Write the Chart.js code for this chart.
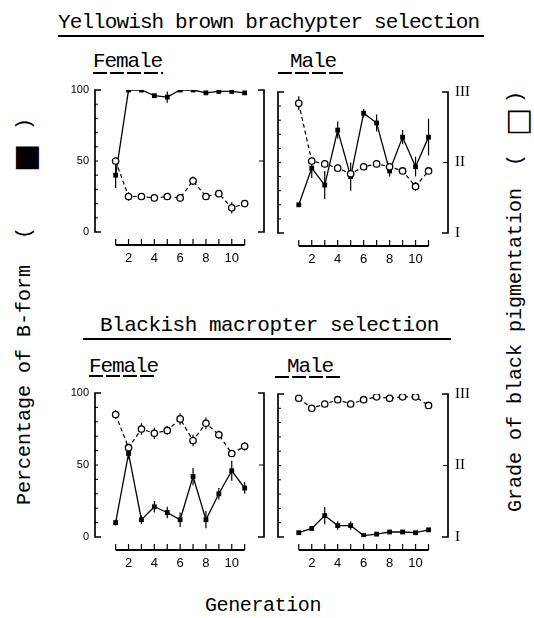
<!DOCTYPE html>
<html>
<head>
<meta charset="utf-8">
<script src="https://cdn.jsdelivr.net/npm/chart.js@4.4.0/dist/chart.umd.min.js"></script>
<style>
  body { margin: 0; width: 534px; height: 618px; background: #fff; position: relative; overflow: hidden; }
  canvas, .txt, .linha { position: absolute; }
  .txt { font-family: "Liberation Mono", monospace; color: #000; white-space: pre; line-height: 1; }
  .linha { background: #000; height: 1.5px; }
  .tracejada { position: absolute; height: 2px; background: repeating-linear-gradient(90deg, #000 0 14px, transparent 14px 17px); }
  .rot { transform: translate(-50%, -50%) rotate(-90deg); }
</style>
</head>
<body>

<!-- títulos -->
<div class="txt" style="left:58px; top:12px; font-size:21px; letter-spacing:-0.9px;">Yellowish brown brachypter selection</div>
<div class="linha" style="left:58px; top:35px; width:426px;"></div>
<div class="txt" style="left:93px; top:51px; font-size:21px; letter-spacing:-1.1px;">Female</div>
<div class="tracejada" style="left:93px; top:72px; width:70px;"></div>
<div class="txt" style="left:290px; top:51px; font-size:21px; letter-spacing:-1.1px;">Male</div>
<div class="tracejada" style="left:278px; top:72px; width:66px;"></div>

<div class="txt" style="left:100px; top:315px; font-size:21px; letter-spacing:-0.5px;">Blackish macropter selection</div>
<div class="linha" style="left:83px; top:338px; width:368px;"></div>
<div class="txt" style="left:89px; top:356px; font-size:21px; letter-spacing:-1.1px;">Female</div>
<div class="tracejada" style="left:89px; top:375px; width:68px;"></div>
<div class="txt" style="left:287px; top:356px; font-size:21px; letter-spacing:-1.1px;">Male</div>
<div class="tracejada" style="left:275px; top:376px; width:66px;"></div>

<div class="txt" style="left:205px; top:596px; font-size:20px; letter-spacing:-0.4px;">Generation</div>

<!-- rótulos verticais -->
<div class="txt rot" style="left:25px; top:385px; font-size:20px;">Percentage of B-form</div>
<div class="txt rot" style="left:25px; top:233px; font-size:20px;">(</div>
<div class="txt rot" style="left:25px; top:158px; font-size:30px; font-family:'DejaVu Sans';">■</div>
<div class="txt rot" style="left:25px; top:124px; font-size:20px;">)</div>

<div class="txt rot" style="left:516px; top:350px; font-size:20px;">Grade of black pigmentation</div>
<div class="txt rot" style="left:516px; top:160px; font-size:20px;">(</div>
<div class="txt rot" style="left:517px; top:122px; font-size:30px; font-family:'DejaVu Sans';">□</div>
<div class="txt rot" style="left:516px; top:97px; font-size:20px;">)</div>

<canvas id="tl"></canvas>
<canvas id="tr"></canvas>
<canvas id="bl"></canvas>
<canvas id="br"></canvas>

<script>
// Gerações e marcas dos eixos
const geracoes = [1, 2, 3, 4, 5, 6, 7, 8, 9, 10, 11];
const ticksGeracao = [2, 4, 6, 8, 10];
const ticksPercentual = [0, 50, 100];
const graus = ["I", "II", "III"];

// Seleção braquíptera marrom-amarelada, fêmeas
const amarFemeaB = [40, 100, 100, 96, 95, 100, 100, 98, 99, 99, 98];
const amarFemeaBErr = [9, 0, 0, 1, 4, 0, 0, 1, 0, 0, 1];
const amarFemeaG = [50, 25, 25, 24, 25, 24, 36, 25, 27, 17, 20];
const amarFemeaGErr = [2, 3, 1, 1, 1, 1, 3, 1, 1, 4, 2];

// Seleção braquíptera marrom-amarelada, machos
const amarMachoB = [20, 46, 34, 73, 40, 85, 78, 44, 68, 47, 68];
const amarMachoBErr = [0, 7, 10, 6, 10, 3, 6, 4, 5, 7, 13];
const amarMachoG = [92, 51, 49, 46, 42, 47, 49, 47, 44, 33, 44];
const amarMachoGErr = [5, 2, 1, 1, 1, 1, 1, 1, 1, 3, 1];

// Seleção macróptera enegrecida, fêmeas
const pretoFemeaB = [10, 58, 12, 21, 17, 12, 42, 12, 30, 46, 34];
const pretoFemeaBErr = [2, 4, 3, 4, 4, 5, 6, 6, 4, 7, 4];
const pretoFemeaG = [85, 62, 75, 72, 74, 82, 67, 79, 71, 58, 63];
const pretoFemeaGErr = [3, 3, 4, 4, 3, 4, 4, 4, 3, 2, 3];

// Seleção macróptera enegrecida, machos
const pretoMachoB = [3, 6, 15, 8, 8, 1, 2, 3.5, 3.5, 3, 5];
const pretoMachoBErr = [1, 1, 6, 3, 3, 1, 1, 1, 1, 1, 1];
const pretoMachoG = [97, 90, 93, 96, 93, 96, 98, 97, 98, 98, 92];
const pretoMachoGErr = [1, 2, 1, 1, 2, 1, 1, 1, 1, 1, 2];

// Colchetes, eixo das gerações separado e barras de erro
const molduraPlugin = {
  id: "moldura",
  beforeDatasetsDraw(chart) {
    const { ctx, chartArea: a, scales } = chart;
    const x = scales.x, y = scales.y;
    ctx.save();
    ctx.strokeStyle = "#000";
    ctx.lineWidth = 1.7;
    ctx.beginPath();
    ctx.moveTo(a.left + 6, a.top); ctx.lineTo(a.left, a.top);
    ctx.lineTo(a.left, a.bottom); ctx.lineTo(a.left + 6, a.bottom);
    ctx.moveTo(a.right - 6, a.top); ctx.lineTo(a.right, a.top);
    ctx.lineTo(a.right, a.bottom); ctx.lineTo(a.right - 6, a.bottom);
    ctx.stroke();

    ctx.lineWidth = 1;
    ctx.beginPath();
    for (let v = 10; v < 100; v += 10) {
      const py = y.getPixelForValue(v);
      ctx.moveTo(a.left, py); ctx.lineTo(a.left + 3, py);
    }
    const meio = y.getPixelForValue(50);
    ctx.moveTo(a.right, meio); ctx.lineTo(a.right - 5, meio);
    ctx.stroke();

    const yEixo = a.bottom + 13;
    ctx.lineWidth = 2;
    ctx.beginPath();
    ctx.moveTo(x.getPixelForValue(geracoes[0]), yEixo);
    ctx.lineTo(x.getPixelForValue(geracoes[geracoes.length - 1]), yEixo);
    ctx.stroke();
    ctx.lineWidth = 1.2;
    ctx.beginPath();
    geracoes.forEach((g) => {
      const px = x.getPixelForValue(g);
      ctx.moveTo(px, yEixo); ctx.lineTo(px, yEixo - 6);
    });
    ctx.stroke();

    ctx.lineWidth = 1.2;
    ctx.beginPath();
    chart.data.datasets.forEach((ds) => {
      ds.erros.forEach((e, j) => {
        if (!e) return;
        const p = ds.data[j];
        const px = x.getPixelForValue(p.x);
        ctx.moveTo(px, y.getPixelForValue(p.y - e));
        ctx.lineTo(px, y.getPixelForValue(p.y + e));
      });
    });
    ctx.stroke();
    ctx.restore();
  },
};

// Função para criar cada painel
function criarPainel(id, caixa, valB, errB, valG, errG, mostrarPercentual, mostrarGrau) {
  const canvas = document.getElementById(id);
  const w = caixa.R - caixa.L + 80;
  const h = caixa.B - caixa.T + 55;
  canvas.style.left = caixa.L - 40 + "px";
  canvas.style.top = caixa.T - 15 + "px";
  canvas.style.width = w + "px";
  canvas.style.height = h + "px";
  canvas.width = w;
  canvas.height = h;

  const pontos = (vals) => geracoes.map((g, i) => ({ x: g, y: vals[i] }));

  new Chart(canvas.getContext("2d"), {
    type: "line",
    data: {
      datasets: [
        {
          data: pontos(valG),
          erros: errG,
          borderColor: "#000",
          borderWidth: 1.2,
          borderDash: [4, 3],
          pointStyle: "circle",
          pointRadius: 3.2,
          pointBorderWidth: 1.3,
          pointBackgroundColor: "#fff",
          pointBorderColor: "#000",
        },
        {
          data: pontos(valB),
          erros: errB,
          borderColor: "#000",
          borderWidth: 1.3,
          pointStyle: "rect",
          pointRadius: 3.4,
          pointBorderWidth: 0,
          pointBackgroundColor: "#000",
        },
      ],
    },
    options: {
      responsive: false,
      animation: false,
      layout: { padding: { top: 15, left: 0, right: 0, bottom: 0 } },
      plugins: { legend: { display: false }, tooltip: { enabled: false } },
      scales: {
        x: {
          type: "linear",
          min: -0.6,
          max: 12.5,
          grid: { display: false, drawTicks: false },
          border: { display: false },
          afterBuildTicks: (ax) => { ax.ticks = ticksGeracao.map((v) => ({ value: v })); },
          afterFit: (ax) => { ax.height = 40; },
          ticks: {
            padding: 19,
            maxRotation: 0,
            autoSkip: false,
            color: "#000",
            font: { family: "Liberation Sans", size: 13 },
          },
        },
        y: {
          position: "left",
          min: 0,
          max: 100,
          grid: { display: false, drawTicks: false },
          border: { display: false },
          afterBuildTicks: (ax) => { ax.ticks = ticksPercentual.map((v) => ({ value: v })); },
          afterFit: (ax) => { ax.width = 40; },
          ticks: {
            display: mostrarPercentual,
            padding: 6,
            color: "#000",
            font: { family: "Liberation Sans", size: 11 },
          },
        },
        y2: {
          position: "right",
          min: 0,
          max: 100,
          grid: { display: false, drawTicks: false },
          border: { display: false },
          afterBuildTicks: (ax) => { ax.ticks = ticksPercentual.map((v) => ({ value: v })); },
          afterFit: (ax) => { ax.width = 40; },
          ticks: {
            display: mostrarGrau,
            padding: 7,
            color: "#000",
            font: { family: "Liberation Serif", size: 15 },
            callback: (v, i) => graus[i],
          },
        },
      },
    },
    plugins: [molduraPlugin],
  });
}

criarPainel("tl", { L: 95, R: 264, T: 90, B: 232 }, amarFemeaB, amarFemeaBErr, amarFemeaG, amarFemeaGErr, true, false);
criarPainel("tr", { L: 278, R: 448, T: 91, B: 233 }, amarMachoB, amarMachoBErr, amarMachoG, amarMachoGErr, false, true);
criarPainel("bl", { L: 95, R: 264, T: 393, B: 537 }, pretoFemeaB, pretoFemeaBErr, pretoFemeaG, pretoFemeaGErr, true, false);
criarPainel("br", { L: 278, R: 448, T: 393, B: 537 }, pretoMachoB, pretoMachoBErr, pretoMachoG, pretoMachoGErr, false, true);
</script>
</body>
</html>
